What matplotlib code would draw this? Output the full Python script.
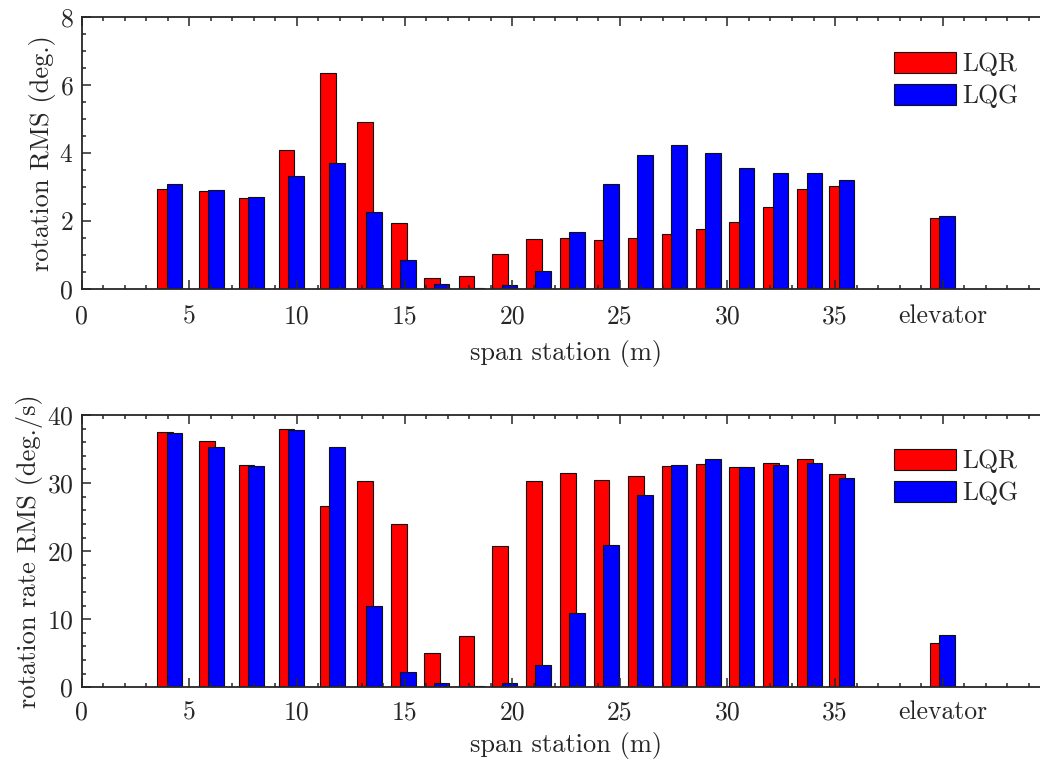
import matplotlib
matplotlib.use('Agg')
import matplotlib.pyplot as plt
from matplotlib.ticker import MultipleLocator, FixedLocator, FixedFormatter

# ---- data ----
stations = [4.09, 6.02, 7.87, 9.73, 11.66, 13.36, 14.94, 16.50, 18.09, 19.66,
            21.22, 22.80, 24.37, 25.95, 27.53, 29.10, 30.67, 32.25, 33.83, 35.31, 40.0]
series_names = ['LQR', 'LQG']
rot_lqr = [2.94, 2.87, 2.68, 4.07, 6.34, 4.91, 1.93, 0.32, 0.36, 1.02,
           1.46, 1.50, 1.44, 1.48, 1.60, 1.75, 1.95, 2.41, 2.92, 3.03, 2.07]
rot_lqg = [3.07, 2.89, 2.70, 3.31, 3.69, 2.26, 0.83, 0.14, 0.02, 0.10,
           0.51, 1.66, 3.09, 3.93, 4.23, 4.00, 3.56, 3.41, 3.40, 3.19, 2.13]
rate_lqr = [37.46, 36.2, 32.7, 37.9, 26.6, 30.3, 24.0, 5.06, 7.56, 20.7,
            30.3, 31.5, 30.5, 31.1, 32.45, 32.85, 32.4, 33.0, 33.6, 31.3, 6.5]
rate_lqg = [37.3, 35.25, 32.5, 37.8, 35.35, 11.9, 2.26, 0.69, 0.2, 0.6,
            3.3, 10.9, 20.97, 28.2, 32.65, 33.5, 32.35, 32.7, 32.9, 30.8, 7.7]
xtick_vals = [0, 5, 10, 15, 20, 25, 30, 35, 40, 45]
xtick_labels = ['0', '5', '10', '15', '20', '25', '30', '35', 'elevator', '']

plt.rcParams['font.family'] = ['cmr10', 'DejaVu Serif']
plt.rcParams['axes.formatter.use_mathtext'] = True
plt.rcParams['font.size'] = 18

dark = '#262626'
W = 1040
H = 760
fig = plt.figure(figsize=(W / 100, H / 100), dpi=100)

ax_left = 81.7 / W
ax_w = 45 * 21.525 / W
ax1 = fig.add_axes([ax_left, 1 - 288.7 / H, ax_w, 272 / H])
ax2 = fig.add_axes([ax_left, 1 - 687.3 / H, ax_w, 272.3 / H])

bw = 0.73
off = 0.215
colors = ['#ff0000', '#0000ff']
FS = 18.5
PX = 100 / 72.0  # pixels per point


def draw(ax, a, b, ylim, ymaj, ymin, ylabel, leg_top, xpad, lpad):
    xs_a = [s - off for s in stations]
    xs_b = [s + off for s in stations]
    ax.bar(xs_a, a, width=bw, color=colors[0], edgecolor='#111111',
           linewidth=0.8, label=series_names[0])
    ax.bar(xs_b, b, width=bw, color=colors[1], edgecolor='#111111',
           linewidth=0.8, label=series_names[1])
    ax.set_xlim(0, 45)
    ax.set_ylim(*ylim)
    ax.xaxis.set_major_locator(FixedLocator(xtick_vals))
    ax.xaxis.set_major_formatter(FixedFormatter(xtick_labels))
    ax.xaxis.set_minor_locator(MultipleLocator(1))
    ax.yaxis.set_major_locator(MultipleLocator(ymaj))
    ax.yaxis.set_minor_locator(MultipleLocator(ymin))
    ax.tick_params(which='both', direction='in', top=True, right=True,
                   color=dark, labelcolor=dark, width=1.1)
    ax.tick_params(which='major', length=6.5, labelsize=FS)
    ax.tick_params(axis='x', which='major', pad=xpad)
    ax.tick_params(axis='y', which='major', pad=6)
    ax.tick_params(which='minor', length=3)
    for sp in ax.spines.values():
        sp.set_color(dark)
        sp.set_linewidth(1.3)
    ax.set_xlabel('span station (m)', fontsize=FS + 0.5, color=dark, labelpad=lpad)
    ax.set_ylabel(ylabel, fontsize=FS + 0.5, color=dark, labelpad=2.5)
    ax.legend(loc='upper left', bbox_to_anchor=(894 / W, 1 - leg_top / H),
              bbox_transform=fig.transFigure, frameon=False, borderpad=0,
              borderaxespad=0,
              handlelength=62 / (FS * PX), handleheight=23 / (FS * PX),
              labelspacing=0.28,
              handletextpad=6 / (FS * PX), fontsize=FS, labelcolor=dark)


draw(ax1, rot_lqr, rot_lqg, (0, 8), 2, 0.5, 'rotation RMS (deg.)', 52, 11.5, 8)
draw(ax2, rate_lqr, rate_lqg, (0, 40), 10, 2, 'rotation rate RMS (deg./s)', 449, 9.5, 5.5)

fig.savefig('out.png', dpi=100)
